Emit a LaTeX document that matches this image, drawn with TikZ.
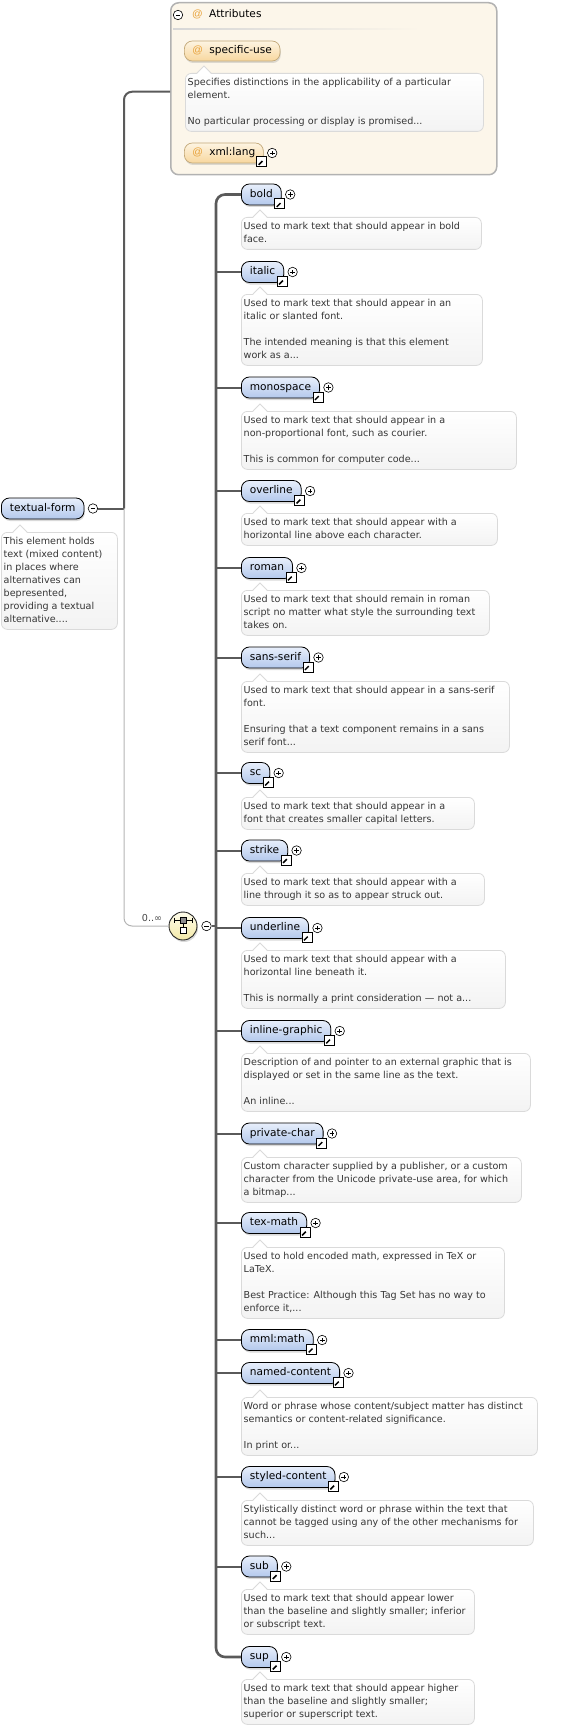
\documentclass[tikz,border=0pt]{standalone}
\usepackage{fontspec}
\setmainfont{DejaVu Sans}
\newfontfamily\atfont{Liberation Sans}
\usetikzlibrary{shadows}
\definecolor{elemtop}{HTML}{E8EFFB}
\definecolor{elembot}{HTML}{B3C8EC}
\definecolor{attrtop}{HTML}{FDF4E2}
\definecolor{attrbot}{HTML}{F8D79E}
\definecolor{attrborder}{HTML}{C2A878}
\definecolor{groupfill}{HTML}{FCF6EA}
\definecolor{groupborder}{HTML}{B2B2B2}
\definecolor{docborder}{HTML}{DADADA}
\definecolor{docbot}{HTML}{F3F3F3}
\definecolor{conncol}{HTML}{5A5A5A}
\definecolor{thingray}{HTML}{B4B4B4}
\definecolor{atorange}{HTML}{E8A33C}
\definecolor{doctextcol}{HTML}{363636}
\definecolor{seqtop}{HTML}{FFFDEB}
\definecolor{seqbot}{HTML}{F3E9A8}
\newcommand\labfont{\fontsize{10.6}{12}\selectfont}
\newcommand\docfont{\fontsize{9.6}{13}\selectfont}
\newcommand\atsign{\textcolor{atorange}{\atfont\fontsize{10.5}{11}\selectfont @}}
\tikzset{
  elem/.style={draw=black, line width=0.8pt, rounded corners=8pt,
    top color=elemtop, bottom color=elembot, minimum height=21pt,
    inner xsep=8.5pt, inner ysep=0pt, text height=7.8pt, text depth=2.4pt,
    font=\labfont, anchor=west,
    drop shadow={shadow xshift=0.8pt, shadow yshift=-2pt, opacity=0.3}},
  attel/.style={draw=attrborder, line width=0.7pt, rounded corners=8pt,
    top color=attrtop, bottom color=attrbot, minimum height=20pt,
    inner xsep=8pt, inner ysep=0pt, text height=7.8pt, text depth=2.4pt,
    font=\labfont, anchor=west,
    drop shadow={shadow xshift=0.8pt, shadow yshift=-2pt, opacity=0.25}},
  group/.style={draw=groupborder, line width=1.5pt, rounded corners=8pt, fill=groupfill},
  docb/.style={draw=docborder, line width=0.8pt, rounded corners=6pt,
    top color=white, bottom color=docbot, inner sep=0pt},
  docline/.style={draw=docborder, line width=0.8pt},
  doctext/.style={anchor=north west, inner xsep=2.5pt, inner ysep=2.5pt,
    align=left, font=\docfont, text=doctextcol},
  conn/.style={draw=conncol, line width=2pt},
  vline/.style={draw=conncol, line width=2.6pt},
  thinline/.style={draw=thingray, line width=1pt},
  plusc/.style={circle, draw=black, line width=0.6pt, fill=white,
    minimum size=9.5pt, inner sep=0pt,
    path picture={\draw[line width=0.6pt]
      ([xshift=-2.4pt]path picture bounding box.center) -- ([xshift=2.4pt]path picture bounding box.center)
      ([yshift=-2.4pt]path picture bounding box.center) -- ([yshift=2.4pt]path picture bounding box.center);}},
  minusc/.style={circle, draw=black, line width=0.6pt, fill=white,
    minimum size=9.5pt, inner sep=0pt,
    path picture={\draw[line width=0.7pt]
      ([xshift=-2.4pt]path picture bounding box.center) -- ([xshift=2.4pt]path picture bounding box.center);}},
  linkic/.style={rectangle, draw=black, line width=0.8pt, fill=white,
    minimum size=10pt, inner sep=0pt,
    path picture={
      \draw[line width=1.5pt] ([xshift=-3pt,yshift=-3pt]path picture bounding box.center)
        -- ([xshift=1.2pt,yshift=1.2pt]path picture bounding box.center);
      \fill ([xshift=3.4pt,yshift=3.4pt]path picture bounding box.center)
        -- ([xshift=-1.6pt,yshift=3.4pt]path picture bounding box.center)
        -- ([xshift=3.4pt,yshift=-1.6pt]path picture bounding box.center) -- cycle;}},
  seqc/.style={circle, draw=black!85, line width=0.9pt, top color=seqtop, bottom color=seqbot,
    minimum size=28pt, inner sep=0pt,
    drop shadow={shadow xshift=1pt, shadow yshift=-2pt, opacity=0.3}},
}
% doc box: name, left, top, right, height, text
\newcommand\docbox[6]{%
  \node[docb, minimum width=#4-#2, minimum height=#5, anchor=north west] (#1) at (#2,#3) {};
  \fill[white] ([xshift=12pt,yshift=-1pt]#1.north west) -- ([xshift=19pt,yshift=7pt]#1.north west)
     -- ([xshift=26pt,yshift=-1pt]#1.north west) -- cycle;
  \draw[docline] ([xshift=12pt]#1.north west) -- ([xshift=19pt,yshift=7pt]#1.north west)
     -- ([xshift=26pt]#1.north west);
  \node[doctext] (#1-t) at (#1.north west) {\rule{0pt}{10pt}#6\rule[-3.5pt]{0pt}{0pt}};
}
% child element: name, label, y
\newcommand\childel[3]{%
  \node[elem] (#1) at (241,#3) {#2};
  \node[linkic] (#1-l) at ([xshift=-2pt,yshift=1.5pt]#1.south east) {};
  \node[plusc] (#1-p) at ([xshift=8.5pt]#1.east) {};
}
\begin{document}
\begin{tikzpicture}[x=1pt,y=-1pt]
\useasboundingbox (0,0) rectangle (561,1728);

% ---------- Attributes group ----------
\node[group, minimum width=326pt, minimum height=172pt, anchor=north west] (attrs) at (170,2) {};
\shade[left color=black!16, right color=groupfill] (173,28.5) rectangle (420,30);
\node[minusc] (attrs-m) at (178,15) {};
\node[inner sep=0pt, anchor=west, text height=7.8pt, text depth=2.4pt] (attrs-at) at (192,15) {\atsign};
\node[font=\labfont, inner sep=0pt, anchor=west, text height=7.8pt, text depth=2.4pt] (attrs-h) at (209,15) {Attributes};

\node[attel] (su) at (184,51) {\makebox[17pt][l]{\atsign}specific-use};
\docbox{su-d}{185}{73}{483}{58}{Specifies distinctions in the applicability of a particular\\element.\\[13pt]No particular processing or display is promised...}

\node[attel] (xl) at (184,153) {\makebox[17pt][l]{\atsign}xml:lang};
\node[linkic] (xl-l) at ([xshift=-2pt,yshift=1.5pt]xl.south east) {};
\node[plusc] (xl-p) at ([xshift=8.5pt]xl.east) {};

% ---------- textual-form ----------
\node[elem] (tf) at (1,508.5) {textual-form};
\node[minusc] (tf-m) at ([xshift=8.5pt]tf.east) {};
\docbox{tf-d}{1}{532}{117}{97}{This element holds\\text (mixed content)\\in places where\\alternatives can\\bepresented,\\providing a textual\\alternative....}

\coordinate (j1) at (124,508.5);
\coordinate (sv) at (216,0);

% ---------- sequence compositor ----------
\node[seqc] (seq) at (183,926) {};
\begin{scope}[shift={(seq.center)}]
  \draw[line width=0.8pt] (-9,-6) -- (9,-6);
  \draw[line width=0.8pt] (-9,-8.5) -- (-9,-3.5) (9,-8.5) -- (9,-3.5);
  \draw[line width=0.6pt, fill=black!45] (-2.5,-9) rectangle (3.5,-3);
  \draw[line width=0.7pt] (0.5,-3) -- (0.5,1);
  \draw[line width=0.7pt, fill=white] (-2.5,1) rectangle (3.5,7);
\end{scope}
\node[minusc] (seq-m) at (206.5,926) {};
\node[font=\fontsize{9.6}{11}\selectfont, text=black!72, inner sep=0pt] (card) at (152,918) {0..∞};

% ---------- children ----------
\childel{bold}{bold}{194.5}
\docbox{bold-d}{241}{217}{481}{32}{Used to mark text that should appear in bold\\face.}
\childel{italic}{italic}{272}
\docbox{italic-d}{241}{294}{482}{71}{Used to mark text that should appear in an\\italic or slanted font.\\[13pt]The intended meaning is that this element\\work as a...}
\childel{mono}{monospace}{387.5}
\docbox{mono-d}{241}{411}{516}{58}{Used to mark text that should appear in a\\non-proportional font, such as courier.\\[13pt]This is common for computer code...}
\childel{over}{overline}{491}
\docbox{over-d}{241}{513}{497}{32}{Used to mark text that should appear with a\\horizontal line above each character.}
\childel{roman}{roman}{568}
\docbox{roman-d}{241}{590}{489}{45}{Used to mark text that should remain in roman\\script no matter what style the surrounding text\\takes on.}
\childel{sans}{sans-serif}{657.5}
\docbox{sans-d}{241}{681}{509}{71}{Used to mark text that should appear in a sans-serif\\font.\\[13pt]Ensuring that a text component remains in a sans\\serif font...}
\childel{sc}{sc\hspace{7.5pt}}{773}
\docbox{sc-d}{241}{797}{474}{32}{Used to mark text that should appear in a\\font that creates smaller capital letters.}
\childel{strike}{strike}{850.5}
\docbox{strike-d}{241}{873}{484}{32}{Used to mark text that should appear with a\\line through it so as to appear struck out.}
\childel{under}{underline}{928}
\docbox{under-d}{241}{950}{505}{58}{Used to mark text that should appear with a\\horizontal line beneath it.\\[13pt]This is normally a print consideration — not a...}
\childel{ig}{inline-graphic}{1031}
\docbox{ig-d}{241}{1053}{530}{58}{Description of and pointer to an external graphic that is\\displayed or set in the same line as the text.\\[13pt]An inline...}
\childel{pc}{private-char}{1133.5}
\docbox{pc-d}{241}{1157}{521}{45}{Custom character supplied by a publisher, or a custom\\character from the Unicode private-use area, for which\\a bitmap...}
\childel{tm}{tex-math}{1223}
\docbox{tm-d}{241}{1247}{504}{71}{Used to hold encoded math, expressed in TeX or\\LaTeX.\\[13pt]Best Practice: Although this Tag Set has no way to\\enforce it,...}
\childel{mm}{mml:math}{1340}
\childel{nc}{named-content}{1373}
\docbox{nc-d}{241}{1397}{537}{58}{Word or phrase whose content/subject matter has distinct\\semantics or content-related significance.\\[13pt]In print or...}
\childel{stc}{styled-content}{1477}
\docbox{stc-d}{241}{1500}{533}{45}{Stylistically distinct word or phrase within the text that\\cannot be tagged using any of the other mechanisms for\\such...}
\childel{sub}{sub}{1566.5}
\docbox{sub-d}{241}{1589}{474}{45}{Used to mark text that should appear lower\\than the baseline and slightly smaller; inferior\\or subscript text.}
\childel{sup}{sup}{1657}
\docbox{sup-d}{241}{1679}{474}{45}{Used to mark text that should appear higher\\than the baseline and slightly smaller;\\superior or superscript text.}

% ---------- connectors ----------
\draw[conn, rounded corners=8pt] ([yshift=-3pt]attrs.west) -- ([yshift=-3pt]attrs.west -| j1) -- (j1);
\draw[conn] (tf-m.east) -- (j1);
\draw[thinline, rounded corners=8pt] (j1) -- (j1 |- seq.west) -- (seq.west);
\draw[conn] (seq-m.east) -- (seq-m.east -| sv);
\draw[vline, rounded corners=9pt] (bold.west) -- (bold.west -| sv) -- (sup.west -| sv) -- (sup.west);
\foreach \c in {italic,mono,over,roman,sans,sc,strike,under,ig,pc,tm,mm,nc,stc,sub}{
  \draw[conn] (\c.west -| sv) -- (\c.west);
}
\end{tikzpicture}
\end{document}
